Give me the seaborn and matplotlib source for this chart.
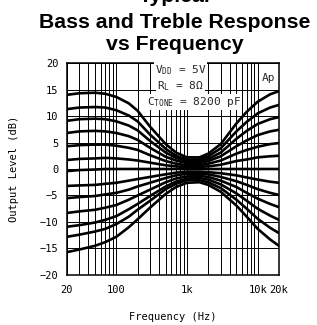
import pandas as pd
import matplotlib
matplotlib.use("Agg")
import matplotlib.pyplot as plt
import seaborn as sns
from matplotlib.ticker import FixedLocator, FixedFormatter, LogLocator, NullFormatter

freqs = [20, 30, 50, 70, 100, 150, 200, 300, 500, 700, 1000,
         1500, 2000, 3000, 5000, 7000, 10000, 15000, 20000]

# Output level (dB) per bass/treble setting, top curve first
step_p6 = [14.0, 14.3, 14.4, 14.2, 13.6, 12.4, 11.0, 8.0, 4.7, 3.1, 2.2,
           2.2, 2.9, 4.7, 8.6, 10.8, 12.7, 14.1, 14.7]
step_p5 = [11.3, 11.6, 11.7, 11.6, 11.1, 10.1, 9.0, 6.5, 3.8, 2.5, 1.8,
           1.8, 2.4, 3.9, 7.1, 8.9, 10.5, 11.6, 12.1]
step_p4 = [9.1, 9.4, 9.5, 9.4, 9.0, 8.2, 7.3, 5.3, 3.1, 2.1, 1.5,
           1.5, 1.9, 3.1, 5.7, 7.2, 8.5, 9.4, 9.8]
step_p3 = [6.8, 7.1, 7.2, 7.1, 6.8, 6.2, 5.5, 4.0, 2.3, 1.6, 1.1,
           1.1, 1.5, 2.4, 4.3, 5.4, 6.4, 7.1, 7.4]
step_p2 = [4.3, 4.5, 4.6, 4.6, 4.4, 4.0, 3.6, 2.6, 1.5, 1.0, 0.7,
           0.7, 1.0, 1.6, 2.9, 3.6, 4.2, 4.7, 4.9]
step_p1 = [1.7, 1.9, 2.0, 2.1, 2.0, 1.8, 1.6, 1.2, 0.7, 0.5, 0.3,
           0.4, 0.5, 0.8, 1.5, 1.8, 2.2, 2.4, 2.5]
step_0 = [-0.4, -0.2, -0.1, 0.0, 0.0, 0.0, 0.0, 0.0, 0.0, 0.0, 0.0,
          0.0, 0.0, 0.0, 0.0, 0.0, 0.0, 0.0, 0.0]
step_m1 = [-3.2, -3.1, -3.0, -2.8, -2.6, -2.2, -1.9, -1.5, -1.0, -0.7, -0.5,
           -0.5, -0.6, -0.8, -1.2, -1.6, -2.0, -2.4, -2.6]
step_m2 = [-5.5, -5.3, -5.1, -4.8, -4.5, -3.9, -3.3, -2.6, -1.7, -1.2, -0.9,
           -0.9, -1.0, -1.5, -2.3, -3.0, -3.8, -4.5, -4.9]
step_m3 = [-8.3, -8.0, -7.7, -7.3, -6.8, -5.8, -5.0, -3.9, -2.5, -1.8, -1.4,
           -1.3, -1.5, -2.2, -3.4, -4.5, -5.6, -6.6, -7.2]
step_m4 = [-10.9, -10.6, -10.1, -9.6, -8.9, -7.6, -6.6, -5.1, -3.3, -2.4, -1.8,
           -1.7, -2.0, -2.9, -4.6, -6.0, -7.5, -8.8, -9.6]
step_m5 = [-12.8, -12.4, -11.8, -11.3, -10.4, -9.0, -7.7, -6.0, -3.8, -2.8, -2.1,
           -2.1, -2.5, -3.6, -5.8, -7.5, -9.4, -11.1, -12.1]
step_m6 = [-15.7, -15.2, -14.5, -13.8, -12.8, -11.0, -9.5, -7.3, -4.7, -3.4, -2.6,
           -2.5, -3.0, -4.3, -6.9, -9.0, -11.3, -13.3, -14.5]

curves = [step_p6, step_p5, step_p4, step_p3, step_p2, step_p1, step_0,
          step_m1, step_m2, step_m3, step_m4, step_m5, step_m6]

xtick_vals = [20, 100, 1000, 10000, 20000]
xtick_text = ["20", "100", "1k", "10k", "20k"]
ytick_vals = [-20, -15, -10, -5, 0, 5, 10, 15, 20]

# long-form table for seaborn
rows = []
for i, c in enumerate(curves):
    for f, v in zip(freqs, c):
        rows.append({"curve": i, "freq": f, "level": v})
df = pd.DataFrame(rows)

sns.set_theme(style="white")
plt.rcParams["font.family"] = ["DejaVu Sans Mono", "DejaVu Sans"]
plt.rcParams["axes.unicode_minus"] = True

W, H = 317, 325
fig = plt.figure(figsize=(W / 100, H / 100), dpi=100)
ax = fig.add_axes([0.211, 0.154, 0.669, 0.652])

sns.lineplot(data=df, x="freq", y="level", units="curve", estimator=None,
             color="black", lw=1.9, ax=ax, zorder=3)

ax.set_xscale("log")
ax.set_xlim(20, 20000)
ax.set_ylim(-20, 20)

ax.xaxis.set_major_locator(FixedLocator(xtick_vals))
ax.xaxis.set_major_formatter(FixedFormatter(xtick_text))
ax.xaxis.set_minor_locator(LogLocator(base=10, subs=range(1, 10), numticks=20))
ax.xaxis.set_minor_formatter(NullFormatter())
ax.set_yticks(ytick_vals)

ax.grid(True, which="both", axis="x", color="black", lw=0.7)
ax.grid(True, which="major", axis="y", color="black", lw=0.7)
ax.set_axisbelow(True)
ax.tick_params(which="both", length=0, labelsize=7.5, colors="black")
ax.tick_params(axis="x", pad=7)
ax.tick_params(axis="y", pad=6)

for s in ax.spines.values():
    s.set_color("black")
    s.set_linewidth(1.1)

ax.set_xlabel("Frequency (Hz)", fontsize=7.5, color="black")
ax.set_ylabel("Output Level (dB)", fontsize=7.5, color="black")
ax.xaxis.set_label_coords(0.5, -0.175)
ax.yaxis.set_label_coords(-0.226, 0.5)

# conditions box (pixel positions from the top-left, baseline)
box = dict(facecolor="white", edgecolor="none", pad=0.6)
notes = [(155, 73, r"$\mathregular{V_{DD}}$ = 5V"),
         (157, 89, r"$\mathregular{R_{L}}$ = 8$\mathregular{\Omega}$"),
         (147, 105, r"$\mathregular{C_{TONE}}$ = 8200 pF"),
         (262, 81, "Ap")]
for px, py, s in notes:
    fig.text(px / W, 1 - py / H, s, fontsize=8, va="baseline", bbox=box,
             zorder=4)

# title, top line clipped by the figure edge as in the original
tfont = dict(family="Liberation Sans", weight="bold", size=15.3, ha="center",
             va="baseline", color="black")
fig.text(0.552, 1 - 2 / H, "Typical", **tfont)
fig.text(0.552, 1 - 28 / H, "Bass and Treble Response", **tfont)
fig.text(0.552, 1 - 50 / H, "vs Frequency", **tfont)

fig.savefig("out.png", dpi=100)
